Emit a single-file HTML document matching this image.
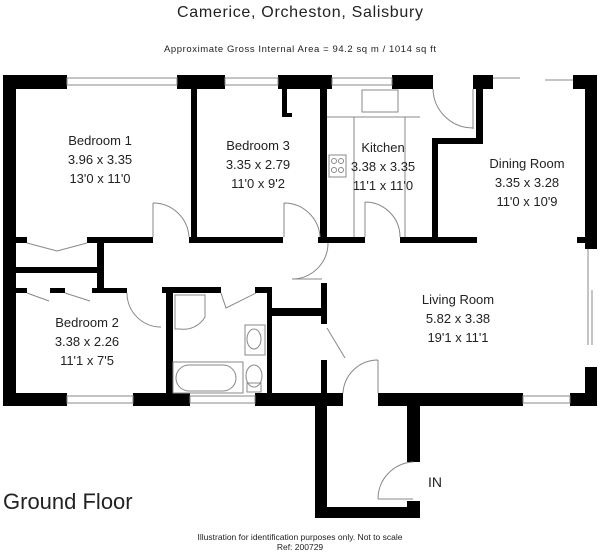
<!DOCTYPE html>
<html><head><meta charset="utf-8"><style>
html,body{margin:0;padding:0;background:#fff;}
svg{display:block;}
text{font-family:"Liberation Sans",sans-serif;fill:#222;}
</style></head><body>
<svg width="600" height="554" viewBox="0 0 600 554" xmlns="http://www.w3.org/2000/svg">
<text x="300" y="17" font-size="16" text-anchor="middle" textLength="246">Camerice, Orcheston, Salisbury</text>
<text x="300" y="52" font-size="9.5" text-anchor="middle" textLength="272">Approximate Gross Internal Area = 94.2 sq m / 1014 sq ft</text>

<g fill="#000">
<!-- top wall -->
<rect x="3" y="75" width="64" height="14"/>
<rect x="177" y="75" width="48" height="14"/>
<rect x="278" y="75" width="54" height="14"/>
<rect x="392" y="75" width="41" height="14"/>
<rect x="473" y="75" width="20" height="14"/>
<rect x="573" y="75" width="24" height="14"/>
<!-- left wall -->
<rect x="3" y="75" width="13" height="331"/>
<!-- right wall -->
<rect x="585" y="75" width="12" height="174"/>
<rect x="585" y="367" width="12" height="39"/>
<rect x="577" y="237" width="10" height="6"/>
<!-- bedroom1/3 partition -->
<rect x="191" y="89" width="6" height="154"/>
<rect x="16" y="237" width="11" height="6"/>
<rect x="87" y="237" width="66" height="6"/>
<rect x="189" y="237" width="94" height="6"/>
<!-- bed3 closet -->
<rect x="282" y="89" width="5" height="28"/>
<rect x="282" y="113" width="10" height="4"/>
<!-- kitchen left wall -->
<rect x="320" y="89" width="7" height="154"/>
<rect x="318" y="237" width="47" height="6"/>
<rect x="400" y="237" width="77" height="6"/>
<!-- dining wall -->
<rect x="432" y="138" width="6" height="105"/>
<rect x="432" y="138" width="51" height="6"/>
<rect x="476" y="89" width="7" height="55"/>
<!-- closet -->
<rect x="97" y="243" width="7" height="50"/>
<rect x="16" y="267" width="81" height="6"/>
<rect x="16" y="288" width="11" height="5"/>
<rect x="50" y="288" width="15" height="5"/>
<rect x="92" y="288" width="35" height="5"/>
<!-- bathroom -->
<rect x="162" y="287" width="59" height="6"/>
<rect x="166" y="287" width="7" height="119"/>
<rect x="255" y="287" width="17" height="6"/>
<rect x="267" y="287" width="5" height="119"/>
<rect x="272" y="308" width="50" height="8"/>
<rect x="321" y="283" width="6" height="41"/>
<rect x="321" y="360" width="6" height="46"/>
<!-- bottom wall -->
<rect x="3" y="393" width="64" height="13"/>
<rect x="133" y="393" width="57" height="13"/>
<rect x="255" y="393" width="88" height="13"/>
<rect x="378" y="393" width="145" height="13"/>
<rect x="570" y="393" width="27" height="13"/>
<!-- porch -->
<rect x="315" y="393" width="12" height="125"/>
<rect x="315" y="507" width="105" height="11"/>
<rect x="407" y="501" width="13" height="17"/>
<rect x="407" y="406" width="13" height="56"/>
</g>

<g fill="none" stroke="#888" stroke-width="1">
<!-- windows -->
<rect x="67" y="78" width="110" height="7"/>
<rect x="225" y="78" width="53" height="7"/>
<rect x="332" y="78" width="60" height="7"/>
<rect x="67" y="396" width="66" height="7"/>
<rect x="190" y="396" width="65" height="7"/>
<rect x="523" y="396" width="47" height="7"/>
<line x1="493" y1="78" x2="520" y2="78"/><line x1="545" y1="80" x2="573" y2="80"/>
<line x1="588" y1="249" x2="588" y2="345"/><line x1="592" y1="290" x2="592" y2="345"/>
<!-- doors -->
<path d="M153 203 v34 M153 203 A36 36 0 0 1 189 237"/>
<path d="M284 203 v34 M284 203 A36 36 0 0 1 320 237"/>
<path d="M365 202 v35 M365 202 A35 35 0 0 1 400 237"/>
<path d="M433 89 A40 40 0 0 0 473 128 M473 89 v40"/>
<path d="M127 293 A34 34 0 0 0 161 327"/>
<path d="M328 243 A36 36 0 0 1 292 279 M292 279 h30"/>
<path d="M221 293 l5 15 l30 -15"/>
<path d="M327 328 l18 30"/>
<path d="M378 360 v33 M378 360 A35 35 0 0 0 343 393"/>
<path d="M378 499 h35 M413 462 A37 37 0 0 0 378 499"/>
<path d="M27 243 l30 8 l30 -8"/>
<path d="M27 293 l22 8 M65 293 l25 8"/>
<!-- fixtures -->
<rect x="362" y="90" width="36" height="22"/>
<rect x="329" y="155" width="17" height="22"/>
<circle cx="334" cy="161" r="2.5"/><circle cx="341" cy="161" r="2.5"/>
<circle cx="334" cy="170" r="2.5"/><circle cx="341" cy="170" r="2.5"/>
<path d="M175 295 h30 v22 a25 25 0 0 1 -25 12 h-5z"/>
<rect x="245" y="325" width="20" height="30"/>
<ellipse cx="254" cy="339" rx="7" ry="10"/>
<rect x="173" y="362" width="70" height="31"/>
<rect x="176" y="365" width="60" height="26" rx="13"/>
<ellipse cx="254" cy="376" rx="8" ry="11"/>
<rect x="247" y="383" width="14" height="9"/>
<line x1="354" y1="117" x2="354" y2="237"/>
<line x1="405" y1="117" x2="405" y2="237"/>
<line x1="327" y1="117" x2="420" y2="117"/>
</g>

<g font-size="13" text-anchor="middle">
<text x="100" y="145">Bedroom 1</text>
<text x="100" y="164">3.96 x 3.35</text>
<text x="100" y="183">13'0 x 11'0</text>
<text x="258" y="150">Bedroom 3</text>
<text x="258" y="169">3.35 x 2.79</text>
<text x="258" y="188">11'0 x 9'2</text>
<text x="383" y="152">Kitchen</text>
<text x="383" y="171">3.38 x 3.35</text>
<text x="383" y="190">11'1 x 11'0</text>
<text x="527" y="168">Dining Room</text>
<text x="527" y="187">3.35 x 3.28</text>
<text x="527" y="206">11'0 x 10'9</text>
<text x="458" y="304">Living Room</text>
<text x="458" y="323">5.82 x 3.38</text>
<text x="458" y="342">19'1 x 11'1</text>
<text x="87" y="327">Bedroom 2</text>
<text x="87" y="346">3.38 x 2.26</text>
<text x="87" y="365">11'1 x 7'5</text>
</g>
<text x="428" y="487" font-size="14">IN</text>
<text x="3" y="509" font-size="22">Ground Floor</text>
<text x="300" y="540" font-size="8.5" text-anchor="middle">Illustration for identification purposes only. Not to scale</text>
<text x="300" y="550" font-size="8.5" text-anchor="middle">Ref: 200729</text>
</svg>
</body></html>
